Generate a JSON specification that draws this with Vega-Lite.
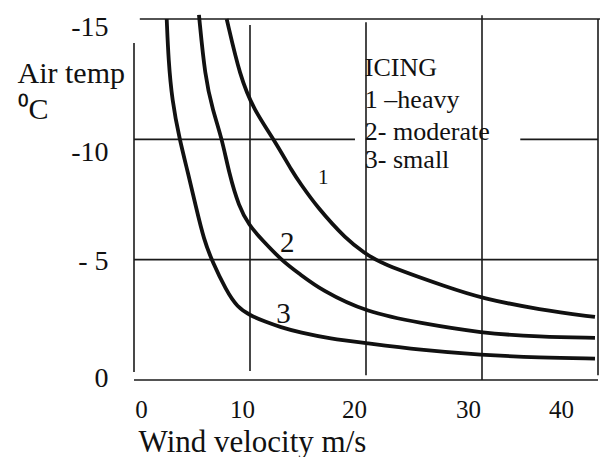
{
  "$schema": "https://vega.github.io/schema/vega-lite/v6.json",
  "width": 464,
  "height": 361,
  "autosize": "none",
  "padding": {"left": 134, "top": 19, "right": 2, "bottom": 77},
  "background": "white",
  "config": {"view": {"stroke": null}, "font": "Liberation Serif"},
  "datasets": {
    "hlines": [
      {"t": -15, "x": 0.5, "x2": 40.2},
      {"t": -10, "x": 0, "x2": 19.05},
      {"t": -10, "x": 33.3, "x2": 40},
      {"t": -5, "x": 0, "x2": 40},
      {"t": 0, "x": 0, "x2": 40}
    ],
    "vlines": [
      {"x": 0, "t": -14.0, "t2": -0.33},
      {"x": 10, "t": -14.75, "t2": -0.37},
      {"x": 20, "t": -14.87, "t2": -0.2},
      {"x": 30, "t": -15.16, "t2": 0},
      {"x": 40, "t": -15.0, "t2": -0.2}
    ],
    "curves": [
      {"curve": "1", "x": 7.99, "t": -15.0},
      {"curve": "1", "x": 9.14, "t": -12.6},
      {"curve": "1", "x": 10.34, "t": -11.22},
      {"curve": "1", "x": 12.07, "t": -9.99},
      {"curve": "1", "x": 13.73, "t": -8.59},
      {"curve": "1", "x": 14.31, "t": -8.19},
      {"curve": "1", "x": 15.75, "t": -7.2},
      {"curve": "1", "x": 18.34, "t": -5.82},
      {"curve": "1", "x": 19.91, "t": -5.28},
      {"curve": "1", "x": 21.03, "t": -4.88},
      {"curve": "1", "x": 27.24, "t": -3.82},
      {"curve": "1", "x": 29.91, "t": -3.41},
      {"curve": "1", "x": 35.0, "t": -2.91},
      {"curve": "1", "x": 39.74, "t": -2.62},
      {"curve": "2", "x": 5.6, "t": -15.17},
      {"curve": "2", "x": 6.12, "t": -12.6},
      {"curve": "2", "x": 6.78, "t": -11.22},
      {"curve": "2", "x": 7.59, "t": -10.01},
      {"curve": "2", "x": 8.19, "t": -8.6},
      {"curve": "2", "x": 9.05, "t": -7.19},
      {"curve": "2", "x": 9.91, "t": -6.44},
      {"curve": "2", "x": 11.03, "t": -5.82},
      {"curve": "2", "x": 12.84, "t": -4.92},
      {"curve": "2", "x": 14.31, "t": -4.4},
      {"curve": "2", "x": 16.12, "t": -3.74},
      {"curve": "2", "x": 20.09, "t": -2.8},
      {"curve": "2", "x": 24.66, "t": -2.37},
      {"curve": "2", "x": 29.91, "t": -1.95},
      {"curve": "2", "x": 35.0, "t": -1.79},
      {"curve": "2", "x": 39.74, "t": -1.75},
      {"curve": "3", "x": 2.82, "t": -15.0},
      {"curve": "3", "x": 2.97, "t": -13.3},
      {"curve": "3", "x": 3.28, "t": -11.63},
      {"curve": "3", "x": 3.92, "t": -10.01},
      {"curve": "3", "x": 4.66, "t": -8.6},
      {"curve": "3", "x": 5.34, "t": -7.19},
      {"curve": "3", "x": 6.03, "t": -5.82},
      {"curve": "3", "x": 6.77, "t": -4.9},
      {"curve": "3", "x": 7.93, "t": -3.74},
      {"curve": "3", "x": 8.88, "t": -3.03},
      {"curve": "3", "x": 10.09, "t": -2.66},
      {"curve": "3", "x": 11.38, "t": -2.41},
      {"curve": "3", "x": 12.59, "t": -2.2},
      {"curve": "3", "x": 14.31, "t": -1.97},
      {"curve": "3", "x": 16.9, "t": -1.72},
      {"curve": "3", "x": 19.91, "t": -1.54},
      {"curve": "3", "x": 24.66, "t": -1.25},
      {"curve": "3", "x": 29.91, "t": -1.04},
      {"curve": "3", "x": 35.0, "t": -0.93},
      {"curve": "3", "x": 39.74, "t": -0.89}
    ],
    "curvelabels": [
      {"label": "1", "x": 16.32, "t": -8.38},
      {"label": "2", "x": 13.22, "t": -5.68},
      {"label": "3", "x": 12.88, "t": -2.74}
    ],
    "legend": [
      {"line": "ICING", "x": 19.9, "t": -12.96},
      {"line": "1 –heavy", "x": 19.9, "t": -11.63},
      {"line": "2- moderate", "x": 19.9, "t": -10.3},
      {"line": "3- small", "x": 19.9, "t": -9.14}
    ]
  },
  "encoding": {
    "x": {
      "field": "x", "type": "quantitative",
      "scale": {"domain": [0, 40], "nice": false, "zero": false},
      "axis": {
        "values": [0, 10, 20, 30, 40],
        "domain": false, "ticks": false, "grid": false,
        "labelFlush": false, "labelOverlap": false, "labelBound": false,
        "labelFont": "Liberation Serif", "labelFontSize": 25, "labelColor": "#111",
        "labelPadding": 17,
        "labelOffset": {"condition": [
          {"test": "datum.value == 0", "value": 7},
          {"test": "datum.value == 10", "value": -8},
          {"test": "datum.value == 20", "value": -12},
          {"test": "datum.value == 30", "value": -14}
        ], "value": -37},
        "title": "Wind velocity m/s",
        "titleFont": "Liberation Serif", "titleFontSize": 31, "titleFontWeight": "normal",
        "titleColor": "#111", "titleAlign": "center", "titleBaseline": "alphabetic",
        "titleX": 118, "titleY": 71
      }
    },
    "y": {
      "field": "t", "type": "quantitative",
      "scale": {"domain": [0, -15], "nice": false, "zero": false},
      "axis": {
        "values": [-15, -10, -5, 0],
        "labelExpr": "datum.value == 0 ? '0' : datum.value == -5 ? '- 5' : '-' + abs(datum.value)",
        "domain": false, "ticks": false, "grid": false,
        "labelFlush": false, "labelOverlap": false, "labelBound": false,
        "labelFont": "Liberation Serif", "labelFontSize": 28, "labelColor": "#111",
        "labelAlign": "right", "labelBaseline": "middle",
        "labelPadding": 26,
        "labelOffset": {"condition": [
          {"test": "datum.value == -15", "value": 8},
          {"test": "datum.value == -10", "value": 13},
          {"test": "datum.value == -5", "value": 1.5}
        ], "value": -1.5},
        "title": ["Air temp", "⁰C"],
        "titleFont": "Liberation Serif", "titleFontSize": 30, "titleFontWeight": "normal",
        "titleColor": "#111", "titleAngle": 0, "titleAlign": "left", "titleBaseline": "alphabetic",
        "titleLineHeight": 36, "titleX": -117, "titleY": 63
      }
    }
  },
  "layer": [
    {
      "data": {"name": "hlines"},
      "mark": {"type": "rule", "stroke": "#1a1a1a", "strokeWidth": 1.6},
      "encoding": {"x2": {"field": "x2"}}
    },
    {
      "data": {"name": "vlines"},
      "mark": {"type": "rule", "stroke": "#1a1a1a", "strokeWidth": 1.6},
      "encoding": {"y2": {"field": "t2"}}
    },
    {
      "data": {"name": "curves"},
      "mark": {"type": "line", "stroke": "#111", "strokeWidth": 3.8, "interpolate": "basis", "clip": false},
      "encoding": {"detail": {"field": "curve"}}
    },
    {
      "data": {"name": "curvelabels"},
      "transform": [{"filter": "datum.label != '1'"}],
      "mark": {"type": "text", "font": "Liberation Serif", "fontSize": 29, "color": "#111", "align": "center", "baseline": "middle"},
      "encoding": {"text": {"field": "label"}}
    },
    {
      "data": {"name": "curvelabels"},
      "transform": [{"filter": "datum.label == '1'"}],
      "mark": {"type": "text", "font": "Liberation Serif", "fontSize": 21, "color": "#111", "align": "center", "baseline": "middle"},
      "encoding": {"text": {"field": "label"}}
    },
    {
      "data": {"name": "legend"},
      "mark": {"type": "text", "font": "Liberation Serif", "fontSize": 26, "color": "#111", "align": "left", "baseline": "middle"},
      "encoding": {"text": {"field": "line"}}
    }
  ]
}
